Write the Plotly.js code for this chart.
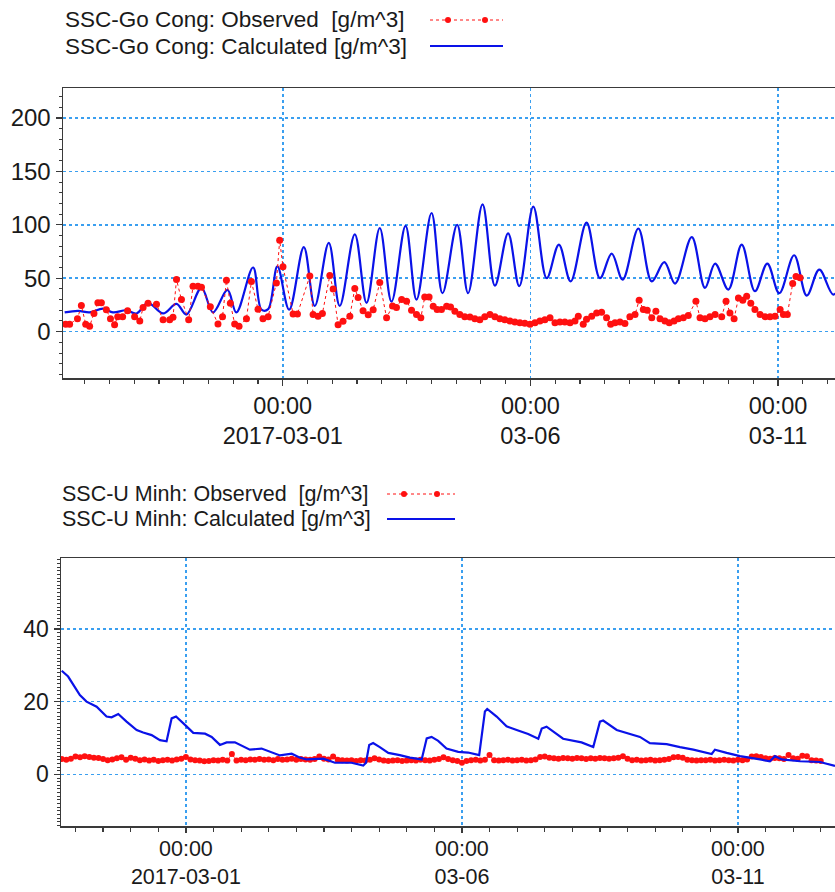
<!DOCTYPE html>
<html><head><meta charset="utf-8">
<script src="https://cdn.plot.ly/plotly-3.0.1.min.js"></script>
<style>html,body{margin:0;padding:0;background:#fff}</style>
</head><body><div id="chart" style="width:835px;height:892px"></div>
<script>
// ---- DATA (time in hours relative to 2017-03-01 00:00) ----
const baseTime = '2017-03-01T00:00:00Z';

const goCongObsHours = [
 -105.2,-103.3,-99.5,-97.6,-95.5,-93.6,-91.5,-89.6,-87.9,-85.5,
 -83.5,-81.5,-80.0,-77.6,-75.2,-71.8,-69.3,-67.7,-65.3,-61.2,
 -58.0,-54.8,-53.2,-51.5,-49.1,-45.6,-43.5,-41.1,-39.4,-35.1,
 -31.4,-29.2,-27.3,-25.4,-23.3,-21.2,-17.6,-15.2,-12.0,-9.6,
 -7.1,-3.1,-1.5,0.1,5.0,7.1,13.1,14.7,17.1,19.2,
 22.8,24.4,26.8,29.2,32.5,34.9,36.5,38.9,41.4,43.8,
 47.0,50.3,53.2,55.1,57.6,60.0,62.4,64.8,66.9,68.8,
 70.9,72.9,74.8,76.9,79.4,81.3,83.4,85.8,88.2,90.7,
 93.1,95.5,97.9,100.4,102.8,105.2,107.6,110.1,112.5,114.9,
 117.3,119.8,122.2,124.6,127.0,129.5,131.9,134.3,136.7,139.2,
 141.6,143.2,145.6,147.2,149.7,152.1,154.5,156.9,158.9,161.0,
 163.4,165.8,168.2,170.7,172.7,174.7,176.6,178.8,180.8,182.8,
 185.2,187.3,189.6,191.7,194.1,196.5,200.2,202.2,204.6,207.0,
 209.5,212.7,214.8,216.7,218.7,220.8,222.9,224.8,226.8,228.8,
 231.3,233.7,236.1,238.5,241.0,242.6,244.5,247.1,248.7,250.7];
const goCongObsValues = [
 7,7,12,24.5,7,5,17,27,27,20.5,
 12,6.5,14,14,19.6,14,10,22.5,26.5,25.6,
 11,11,13.4,48.7,30,11,42.5,42.5,41.6,23.3,
 7.2,14,48,26.5,7.2,5,12,47,21,12,
 14,45.6,85.6,60.6,16.5,16.5,52,16,14.5,17,
 52.6,40,6.5,9.7,14.5,40.4,31.9,19.6,15.8,20.5,
 46,13,24,22.5,30,28.5,20,16,13,32.4,
 32.4,23.8,20.6,20.6,23.8,23,19,16,14,13.7,
 12,11,14,16,14,12,11,10,9,8.4,
 7.8,6.9,8.4,10,11,13,8.4,9,9,8.4,
 10,14.5,6.9,11.6,14.5,17.5,18.1,13,6.9,8.4,
 9,7.5,14,16,29.4,20.6,20,13,19,12,
 10,8.4,10,12,13,15,28.5,13,12,14,
 16,14,28.5,17.5,12,31.5,29.4,33,26.5,20.6,
 16,14,14,14.5,20.6,16,16,45,51.5,50.5];

const goCongCalcHours = [
 -105.7,-99.2,-93.6,-87.1,-82.3,-75.8,-70.9,-65.3,-58.0,-51.5,
 -46.7,-39.4,-33.8,-26.8,-22.5,-14.4,-10.3,-7.1,-2.6,3.1,
 10.2,15.5,22.3,27.6,34.9,40.6,47.0,52.7,59.5,64.8,
 72.1,77.4,84.5,89.8,96.8,102.8,109.2,114.6,121.4,127.9,
 133.8,139.5,147.2,153.7,159.4,164.7,172.3,178.8,184.9,190.1,
 198.2,204.6,209.5,215.9,222.4,228.8,234.8,240.6,247.8,253.9,
 260.0,266.8,272.5];
const goCongCalcValues = [
 18,19.5,18,21.5,18,20,17,27,17,26,
 16,41,18,39,18,60,20.5,21,61,20.5,
 79,24,83,24,91,27,97,28,99,30,
 111,36,100,36,119,43,92,42.5,117,50,
 81.5,47,102,50,73,48.7,96.5,47,65,45,
 88.4,41,63.7,39.4,81.5,37.8,63.7,36,71.5,33.7,
 58,34.7,55];

// U Minh observed: one value every 2 hours starting at -54 h
const uMinhObsStartHour = -54;
const uMinhObsStepHours = 2;
const uMinhObsValues = [
 4.2,4.0,4.3,4.9,4.7,5.0,4.8,4.6,4.5,4.2,3.9,4.1,
 4.4,4.7,4.0,4.6,4.3,3.9,4.1,3.8,4.0,3.7,3.9,4.0,
 3.8,4.1,4.3,4.8,4.1,3.9,3.8,3.6,3.7,3.9,3.8,4.0,
 3.8,5.6,3.8,4.0,3.9,4.1,4.0,4.2,4.0,4.1,3.9,4.2,
 4.0,4.1,4.3,4.0,4.2,4.1,4.0,4.2,4.9,4.3,4.1,4.9,
 4.0,3.9,3.8,3.9,3.7,3.9,3.8,4.0,4.4,4.1,3.8,3.7,
 3.8,3.9,3.7,3.8,3.9,3.8,4.0,3.9,3.8,4.0,4.2,4.7,
 4.2,3.9,3.7,3.2,3.7,3.9,4.0,3.8,4.0,5.3,3.9,3.8,
 3.9,4.0,3.8,3.9,4.0,3.8,3.9,4.1,4.8,4.9,4.6,4.4,
 4.3,4.5,4.4,4.3,4.5,4.4,4.2,4.4,4.3,4.5,4.4,4.3,
 4.4,4.6,5.0,4.3,3.9,4.0,3.8,3.9,4.0,3.8,3.9,4.0,
 4.2,4.7,4.8,4.6,4.0,3.9,3.8,3.9,3.9,4.0,3.8,3.9,
 4.0,3.9,3.8,4.0,3.9,4.1,4.9,5.0,4.8,4.4,4.3,4.5,
 4.4,4.2,5.3,4.4,4.3,5.1,5.0,3.9,3.8,3.7];

const uMinhCalcHours = [
 -54.0,-51.2,-46.1,-43.2,-38.8,-34.5,-32.3,-29.4,-25.8,-21.4,
 -18.6,-14.9,-11.3,-8.4,-6.2,-4.3,-0.4,3.2,8.3,11.2,
 14.8,17.7,21.3,24.9,27.8,32.9,36.5,40.9,46.0,49.6,
 52.5,57.5,59.7,64.8,72.0,77.1,78.3,79.7,81.4,84.3,
 88.0,93.0,97.4,102.5,104.7,106.8,109.7,113.3,118.4,122.7,
 127.5,130.0,131.0,135.1,139.4,143.8,148.8,153.2,154.7,156.8,
 159.7,164.0,172.0,177.1,180.0,181.4,187.3,191.6,197.4,201.7,
 209.0,214.8,220.6,228.6,230.0,235.1,240.9,249.6,253.9,256.1,
 259.0,267.0,275.7,282.2];
const uMinhCalcValues = [
 28.5,26.9,21.8,20.0,18.6,15.9,15.7,16.6,14.5,12.2,
 11.5,10.8,9.4,9.1,15.4,15.9,13.6,11.4,11.2,10.3,
 8.1,8.8,8.8,7.7,6.8,7.1,6.2,5.2,5.7,4.6,
 4.1,4.1,4.3,3.2,3.2,2.4,3.2,8.1,8.6,7.5,
 5.9,5.3,4.6,4.1,9.9,10.3,9.2,7.1,6.2,6.0,
 5.3,17.3,18.0,15.9,13.2,12.2,11.1,9.8,12.6,13.1,
 11.7,9.8,8.8,7.5,14.5,14.8,12.2,11.3,10.3,8.6,
 8.3,7.5,6.8,5.6,6.8,5.9,5.0,4.1,3.6,5.0,
 4.1,3.6,3.4,2.3];

const xTickHours = [0, 120, 240];
const xTickLabels = ['00:00<br>2017-03-01', '00:00<br>03-06', '00:00<br>03-11'];
const goCongYTicks = [0, 50, 100, 150, 200];
const uMinhYTicks = [0, 20, 40];

const legendTop = ['SSC-Go Cong: Observed\u00a0 [g/m^3]', 'SSC-Go Cong: Calculated [g/m^3]'];
const legendBottom = ['SSC-U Minh: Observed\u00a0 [g/m^3]', 'SSC-U Minh: Calculated [g/m^3]'];

// ---- helpers ----
const BASE_MS = Date.parse(baseTime);
function toDate(h) {
  return new Date(BASE_MS + Math.round(h * 3600000)).toISOString().slice(0, 19).replace('T', ' ');
}
const W = 835, H = 892;
const px = v => v / W;
const py = v => 1 - v / H;

const uMinhObsHours = uMinhObsValues.map((_, i) => uMinhObsStartHour + i * uMinhObsStepHours);

const FONT = 'Liberation Sans, Arial, sans-serif';
const TXT = '#1a1a1a';
const GRID = '#3a9ff0';
const AX = '#3a3a3a';
const RED = '#ff1010';
const BLUE = '#0a12e8';

const traces = [
  { x: goCongCalcHours.map(toDate), y: goCongCalcValues, xaxis: 'x', yaxis: 'y',
    mode: 'lines', line: { color: BLUE, width: 2.2, shape: 'spline', smoothing: 1 }, showlegend: false },
  { x: goCongObsHours.map(toDate), y: goCongObsValues, xaxis: 'x', yaxis: 'y',
    mode: 'lines+markers', line: { color: RED, width: 1, dash: '3px,3px' },
    marker: { color: RED, size: 7 }, showlegend: false },
  { x: uMinhObsHours.map(toDate), y: uMinhObsValues, xaxis: 'x2', yaxis: 'y2',
    mode: 'lines+markers', line: { color: RED, width: 1, dash: '3px,3px' },
    marker: { color: RED, size: 6 }, showlegend: false },
  { x: uMinhCalcHours.map(toDate), y: uMinhCalcValues, xaxis: 'x2', yaxis: 'y2',
    mode: 'lines', line: { color: BLUE, width: 2.2 }, showlegend: false }
];

function xAxis(domain, range, anchor, fsize, tlen, standoff) {
  return {
    domain, anchor, type: 'date', range: [toDate(range[0]), toDate(range[1])],
    tickmode: 'array', tickvals: xTickHours.map(toDate), ticktext: xTickLabels,
    ticks: 'outside', ticklen: tlen, tickwidth: 1.2, tickcolor: AX, ticklabelstandoff: standoff,
    showline: true, linecolor: AX, linewidth: 1.5, mirror: true,
    showgrid: true, gridcolor: GRID, griddash: 'dot', gridwidth: 1.5,
    zeroline: false, tickfont: { family: FONT, size: fsize, color: TXT },
    minor: { tick0: toDate(0), dtick: 12 * 3600000, ticks: 'outside', ticklen: 4, tickcolor: AX, tickwidth: 1.2, showgrid: false },
    fixedrange: true
  };
}
function yAxis(domain, range, tickvals, minorStep, anchor, fsize) {
  return {
    domain, anchor, range, tickmode: 'array', tickvals,
    ticks: 'outside', ticklen: 6, tickwidth: 1.2, tickcolor: AX,
    showline: true, linecolor: AX, linewidth: 1.5, mirror: false,
    showgrid: true, gridcolor: GRID, griddash: 'dot', gridwidth: 1.5,
    zeroline: false, tickfont: { family: FONT, size: fsize, color: TXT },
    minor: { tick0: 0, dtick: minorStep, ticks: 'outside', ticklen: 3, tickcolor: AX, tickwidth: 1, showgrid: false },
    fixedrange: true
  };
}

const annotations = [];
const shapes = [];
function legendBlock(texts, textX, y1, y2, lineX0, lineX1, dotXs, fsize) {
  [[texts[0], y1], [texts[1], y2]].forEach(([t, y]) => {
    annotations.push({ xref: 'paper', yref: 'paper', x: px(textX), y: py(y), xanchor: 'left', yanchor: 'middle',
      text: t, showarrow: false, font: { family: FONT, size: fsize, color: TXT }, borderpad: 0 });
  });
  shapes.push({ type: 'line', xref: 'paper', yref: 'paper', x0: px(lineX0), x1: px(lineX1), y0: py(y1), y1: py(y1),
    line: { color: RED, width: 1, dash: '3px,3px' } });
  dotXs.forEach(dx => shapes.push({ type: 'circle', xref: 'paper', yref: 'paper',
    x0: px(dx - 3), x1: px(dx + 3), y0: py(y1 - 3), y1: py(y1 + 3), fillcolor: RED, line: { width: 0 } }));
  shapes.push({ type: 'line', xref: 'paper', yref: 'paper', x0: px(lineX0), x1: px(lineX1), y0: py(y2), y1: py(y2),
    line: { color: BLUE, width: 2.2 } });
}
legendBlock(legendTop, 64, 20, 46, 430, 503, [448, 485], 22.5);
legendBlock(legendBottom, 61, 494, 519, 387, 455, [404, 437], 21.5);

const layout = {
  width: W, height: H, margin: { l: 0, r: 0, t: 0, b: 0 },
  paper_bgcolor: '#ffffff', plot_bgcolor: '#ffffff', showlegend: false,
  xaxis: xAxis([px(63), 1], [-106.5, 267.6], 'y', 23.5, 6, 0),
  yaxis: yAxis([py(378), py(88)], [-43.4, 228], goCongYTicks, 10, 'x', 24),
  xaxis2: xAxis([px(61), 1], [-54.3, 282.2], 'y2', 21.5, 5, -2),
  yaxis2: yAxis([py(826), py(558)], [-14.2, 59.5], uMinhYTicks, 1, 'x2', 23),
  annotations, shapes
};

Plotly.newPlot('chart', traces, layout, { displayModeBar: false, staticPlot: true });
</script>
</body></html>
